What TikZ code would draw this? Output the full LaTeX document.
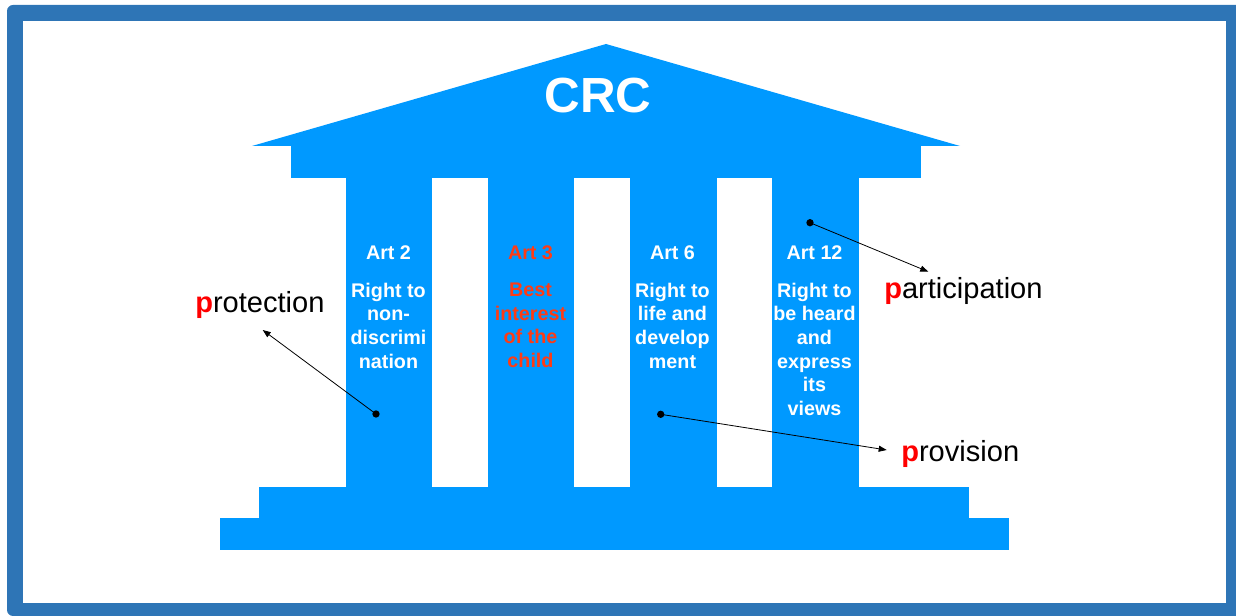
\documentclass[tikz,border=0pt]{standalone}
\usepackage{fontspec}
\setmainfont{Liberation Sans}
\usetikzlibrary{arrows.meta}
\definecolor{frameblue}{HTML}{2E75B6}
\definecolor{bldg}{HTML}{0099FF}
\definecolor{artred}{HTML}{FF3B14}
\definecolor{pred}{HTML}{FF0000}
\tikzset{
  bldgfill/.style={fill=bldg},
  arttitle/.style={anchor=base, inner sep=0pt, text=white, font=\bfseries\fontsize{14.8pt}{17.8pt}\selectfont},
  artbody/.style={anchor=north, inner sep=0pt, text=white, align=center, font=\bfseries\fontsize{14.8pt}{17.8pt}\selectfont},
  pword/.style={anchor=base west, inner sep=0pt, text=black, font=\fontsize{21.8pt}{24pt}\selectfont},
  dotmark/.style={circle, fill=black, inner sep=0pt, minimum size=5.5pt},
  arr/.style={draw=black, line width=0.6pt, -{Triangle[length=6pt,width=4.5pt]}}
}
\newcommand{\redp}{\textcolor{pred}{\bfseries p}}
\begin{document}
\begin{tikzpicture}[x=0.75pt,y=-0.75pt]
\useasboundingbox (0,0) rectangle (1236,616);
% frame
\fill[frameblue] (1236,5) [rounded corners=4.5pt] -- (7,5) -- (7,616) [sharp corners] -- (1236,616) -- cycle;
\fill[white] (23,21) rectangle (1226,603);
% building
\fill[bldgfill] (252,146) -- (606,44) -- (960,146) -- cycle;
\fill[bldgfill] (291,145.5) rectangle (921,178.5);
\fill[bldgfill] (345.5,178) rectangle (432,487.5);
\fill[bldgfill] (487.5,178) rectangle (574,487.5);
\fill[bldgfill] (629.5,178) rectangle (717,487.5);
\fill[bldgfill] (771.5,178) rectangle (858.5,487.5);
\fill[bldgfill] (259,487) rectangle (968.5,518.5);
\fill[bldgfill] (219.5,518) rectangle (1008.5,550);
% title
\node[anchor=base, inner sep=0pt, text=white, font=\bfseries\fontsize{37pt}{37pt}\selectfont] (crc) at (598,112.7) {CRC};
% pillar texts
\node[arttitle] (a2) at (388.5,260) {Art 2};
\node[artbody] (a2b) at (388.5,282.5) {Right to\\non-\\discrimi\\nation};
\node[arttitle, text=artred] (a3) at (530.5,260) {Art 3};
\node[artbody, text=artred] (a3b) at (530.5,282.5) {Best\\interest\\of the\\child};
\node[arttitle] (a6) at (672.5,260) {Art 6};
\node[artbody] (a6b) at (672.5,282.5) {Right to\\life and\\develop\\ment};
\node[arttitle] (a12) at (814.5,260) {Art 12};
\node[artbody] (a12b) at (814.5,282.5) {Right to\\be heard\\and\\express\\its\\views};
% labels
\node[pword] (prot) at (195,312.3) {\redp rotection};
\node[pword] (part) at (884,298.3) {\redp articipation};
\node[pword] (prov) at (901,461.7) {\redp rovision};
% dots and arrow ends
\node[dotmark] (d1) at (376,414) {};
\node[dotmark] (d2) at (810,222.7) {};
\node[dotmark] (d3) at (660.7,414.3) {};
\coordinate (t1) at (262.7,330);
\coordinate (t2) at (928.3,271.7);
\coordinate (t3) at (886.7,450);
\draw[arr] (d1.center) -- (t1);
\draw[arr] (d2.center) -- (t2);
\draw[arr] (d3.center) -- (t3);
\end{tikzpicture}
\end{document}
